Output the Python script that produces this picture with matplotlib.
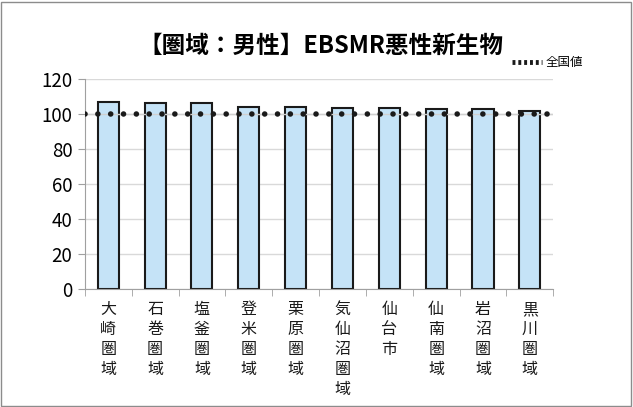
import matplotlib.pyplot as plt
from matplotlib.patches import Rectangle
from matplotlib.lines import Line2D
import numpy as np

plt.rcParams['font.family'] = ['Noto Sans CJK JP', 'DejaVu Sans']

areas = ["大崎圏域", "石巻圏域", "塩釜圏域", "登米圏域", "栗原圏域",
         "気仙沼圏域", "仙台市", "仙南圏域", "岩沼圏域", "黒川圏域"]
smr = [107.2, 106.5, 106.3, 104.2, 104.2, 103.7, 103.3, 103.0, 102.9, 101.6]
national = 100
yticks = [0, 20, 40, 60, 80, 100, 120]

fig = plt.figure(figsize=(6.33, 4.07), dpi=100)
ax = fig.add_axes([0.134, 0.291, 0.74, 0.514])

x = np.arange(len(areas))
ax.set_axisbelow(True)
ax.grid(axis="y", color="#D9D9D9", linewidth=1.0)
ax.bar(x, smr, width=0.45, color="#C5E3F7", edgecolor="#1A1A1A", linewidth=1.5, zorder=2)
ax.axhline(national, color="#D0D0D0", linewidth=1.0, zorder=2.5)
ax.axhline(national, color="#1A1A1A", linewidth=4.0, linestyle=(0, (0.01, 2.3)),
           dash_capstyle="round", zorder=3)

ax.set_xlim(-0.5, len(areas) - 0.5)
ax.set_ylim(0, 120)
ax.set_yticks(yticks)
ax.set_yticklabels([str(v) for v in yticks], fontsize=13.5)
ax.set_xticks(x)
ax.set_xticklabels(["\n".join(a) for a in areas], fontsize=11.5, linespacing=1.22,
                   va="top", color="#1A1A1A")
ax.tick_params(axis="x", length=0, pad=9)
ax.set_xticks(np.arange(-0.5, len(areas)), minor=True)
ax.tick_params(axis="x", which="minor", length=5, color="#A0A0A0")
ax.tick_params(axis="y", length=5, color="#A0A0A0", pad=4)
for s in ["top", "right"]:
    ax.spines[s].set_visible(False)
for s in ["left", "bottom"]:
    ax.spines[s].set_color("#A0A0A0")

fig.text(0.507, 0.888, "【圏域：男性】EBSMR悪性新生物", ha="center", va="center",
         fontsize=17, fontweight="bold")

handle = Line2D([], [], color="#1A1A1A", linewidth=3.5, linestyle=(0, (0.6, 0.6)))
fig.legend([handle], ["全国値"], loc="center", bbox_to_anchor=(0.865, 0.846),
           frameon=False, fontsize=9, handlelength=2.4, handletextpad=0.3)

fig.add_artist(Rectangle((0.002, 0.003), 0.995, 0.993, transform=fig.transFigure,
                         fill=False, edgecolor="#8C8C8C", linewidth=1.0))

fig.savefig("out.png", dpi=100)
